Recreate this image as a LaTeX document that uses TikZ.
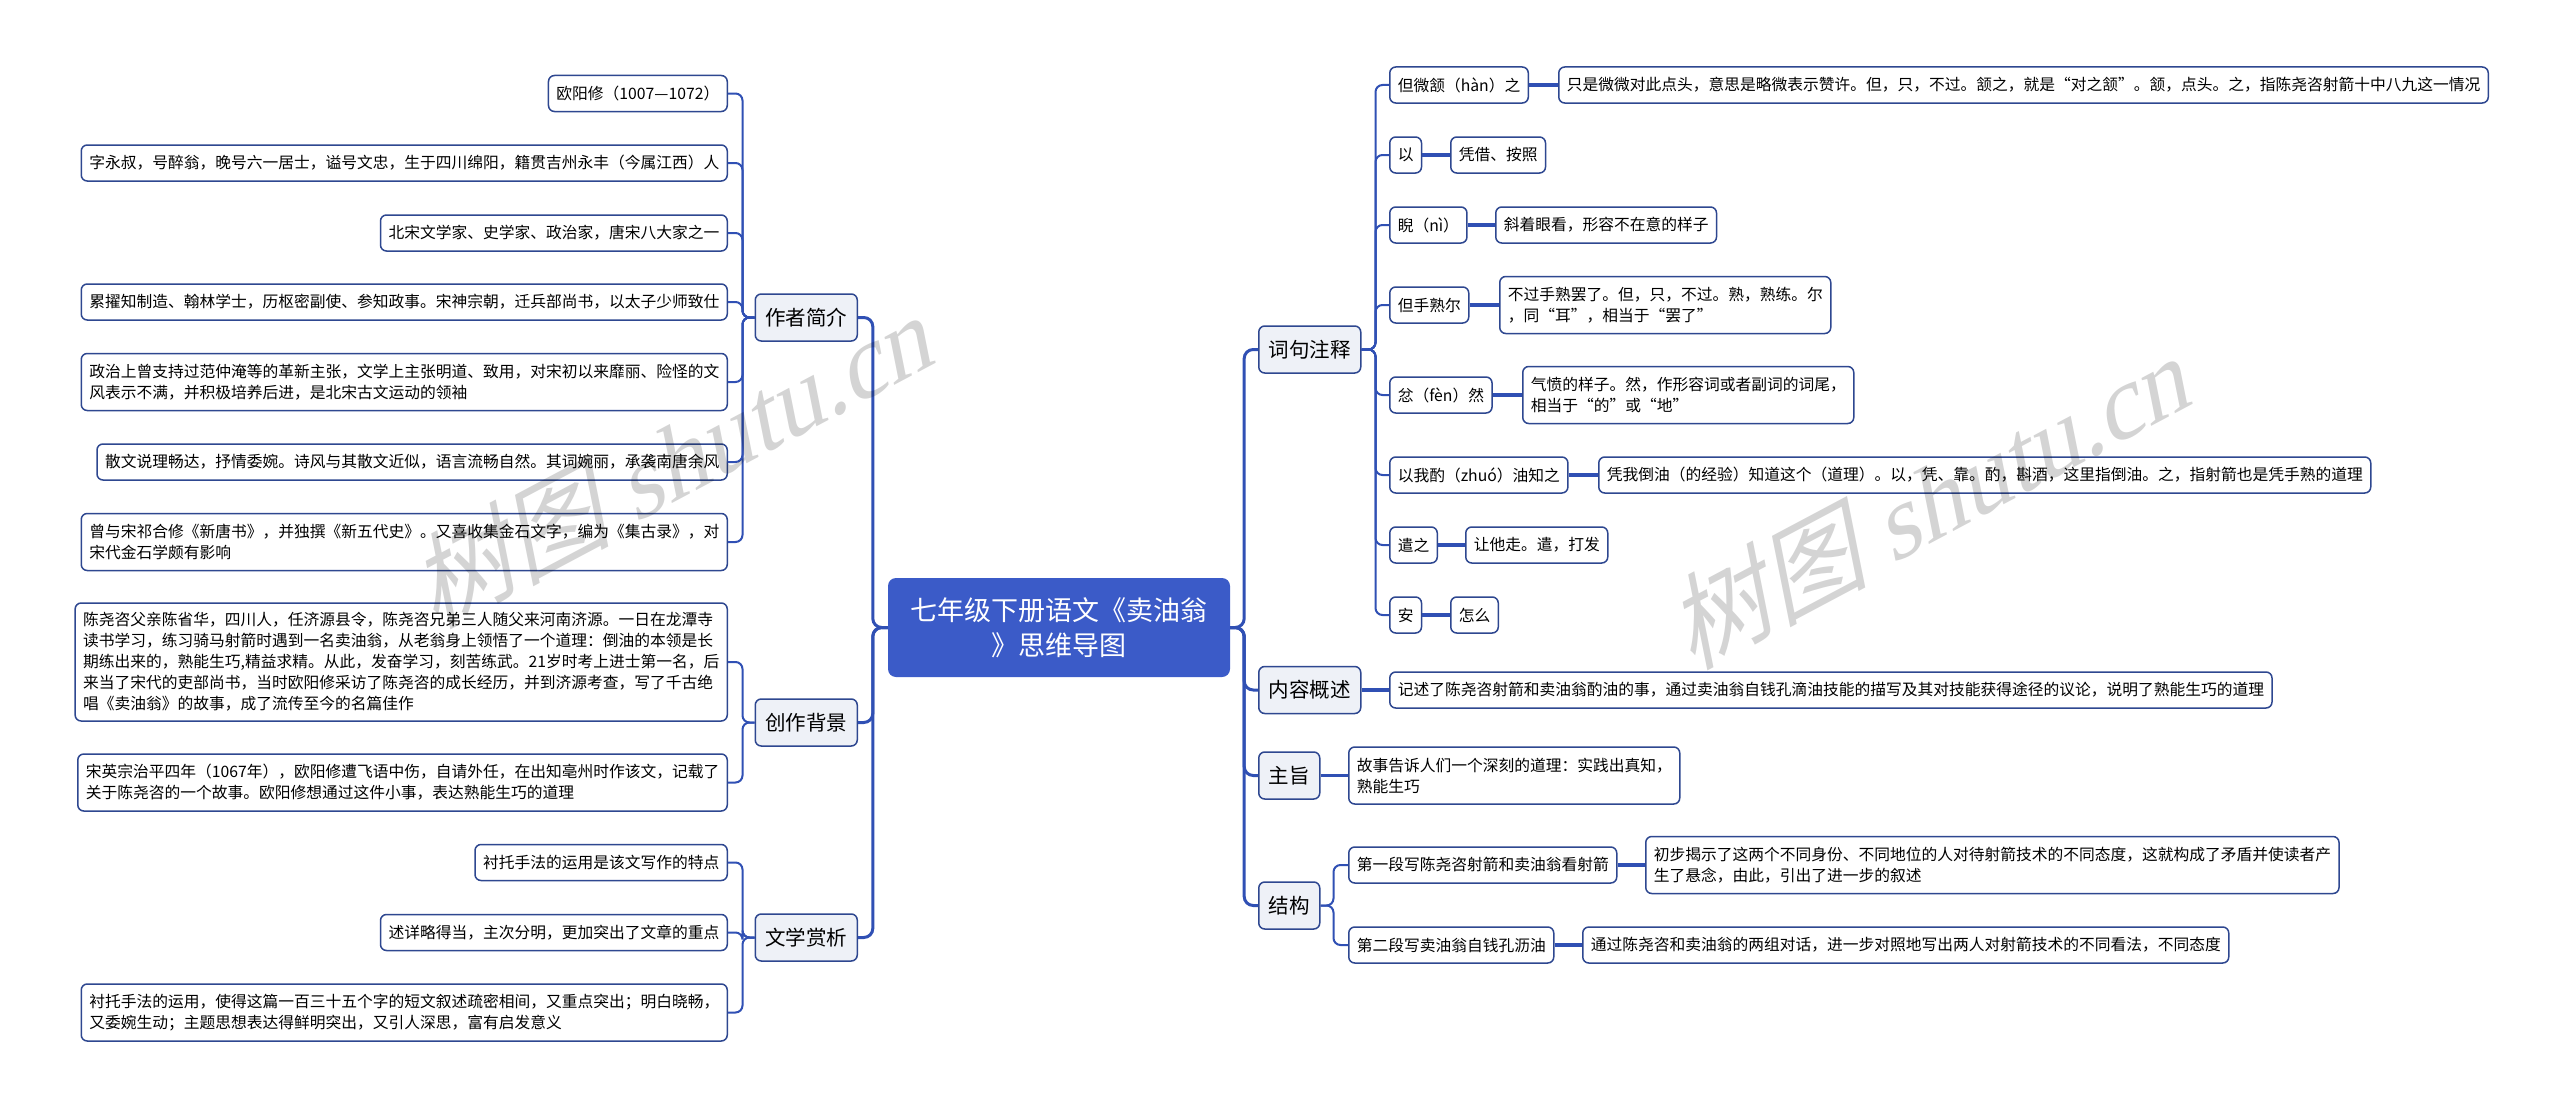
\documentclass[tikz,border=0pt]{standalone}
\usepackage{fontspec}
\setmainfont{Noto Sans CJK SC}
\newfontfamily\wmlatin[FakeSlant=0.3]{Liberation Serif}
\newfontfamily\wmcjk[FakeSlant=0.3]{Noto Sans CJK SC}
\definecolor{rootblue}{HTML}{3B5BC8}
\definecolor{linkblue}{HTML}{3050B4}
\definecolor{boxline}{HTML}{2E4790}
\definecolor{lvlfill}{HTML}{EEF1F7}
\begin{document}
\begin{tikzpicture}[x=1pt,y=-1pt,
  rootnode/.style={fill=rootblue, rounded corners=8pt, text=white, font=\fontsize{27}{35}\selectfont, align=center, minimum width=342pt, minimum height=99pt, inner sep=0pt},
  lvl/.style={draw=boxline, fill=lvlfill, line width=1.5pt, rounded corners=6pt, font=\fontsize{20.5}{24}\selectfont, inner xsep=10pt, inner ysep=0pt, minimum height=47pt},
  leaf/.style={draw=boxline, fill=white, line width=1.5pt, rounded corners=6pt, font=\fontsize{15.75}{21}\selectfont, align=left, inner xsep=8pt, inner ysep=3pt, minimum height=36pt},
  trunk/.style={draw=linkblue, line width=3pt, rounded corners=9pt},
  twig/.style={draw=linkblue, line width=2pt, rounded corners=7pt},
  stem/.style={draw=linkblue, line width=3.5pt},
  wm/.style={rotate=28, text=black, text opacity=0.17, font=\fontsize{102}{106}\selectfont}
]
\fill[white] (0,0) rectangle (2560,1108);
\useasboundingbox (0,0) rectangle (2560,1108);

% root
\node[rootnode] (root) at (1059,627.5) {七年级下册语文《卖油翁\\》思维导图};

% left level 1
\node[lvl, anchor=east] (zzjj) at (858,317.5) {作者简介};
\node[lvl, anchor=east] (czbj) at (858,722.5) {创作背景};
\node[lvl, anchor=east] (wxsx) at (858,937.5) {文学赏析};

% right level 1
\node[lvl, anchor=west] (cjzs) at (1258,349.5) {词句注释};
\node[lvl, anchor=west] (nrgs) at (1258,690) {内容概述};
\node[lvl, anchor=west] (zz) at (1258,775.5) {主旨};
\node[lvl, anchor=west] (jg) at (1258,905.5) {结构};

% left leaves: 作者简介
\node[leaf, anchor=east] (a1) at (728,93.5) {欧阳修（1007—1072）};
\node[leaf, anchor=east] (a2) at (728,163) {字永叔，号醉翁，晚号六一居士，谥号文忠，生于四川绵阳，籍贯吉州永丰（今属江西）人};
\node[leaf, anchor=east] (a3) at (728,233) {北宋文学家、史学家、政治家，唐宋八大家之一};
\node[leaf, anchor=east] (a4) at (728,302) {累擢知制造、翰林学士，历枢密副使、参知政事。宋神宗朝，迁兵部尚书，以太子少师致仕};
\node[leaf, anchor=east, minimum height=57pt] (a5) at (728,382) {政治上曾支持过范仲淹等的革新主张，文学上主张明道、致用，对宋初以来靡丽、险怪的文\\风表示不满，并积极培养后进，是北宋古文运动的领袖};
\node[leaf, anchor=east] (a6) at (728,462) {散文说理畅达，抒情委婉。诗风与其散文近似，语言流畅自然。其词婉丽，承袭南唐余风};
\node[leaf, anchor=east, minimum height=57pt] (a7) at (728,542) {曾与宋祁合修《新唐书》，并独撰《新五代史》。又喜收集金石文字，编为《集古录》，对\\宋代金石学颇有影响};

% left leaves: 创作背景
\node[leaf, anchor=east, minimum height=118pt] (b1) at (728,662) {陈尧咨父亲陈省华，四川人，任济源县令，陈尧咨兄弟三人随父来河南济源。一日在龙潭寺\\读书学习，练习骑马射箭时遇到一名卖油翁，从老翁身上领悟了一个道理：倒油的本领是长\\期练出来的，熟能生巧,精益求精。从此，发奋学习，刻苦练武。21岁时考上进士第一名，后\\来当了宋代的吏部尚书，当时欧阳修采访了陈尧咨的成长经历，并到济源考查，写了千古绝\\唱《卖油翁》的故事，成了流传至今的名篇佳作};
\node[leaf, anchor=east, minimum height=57pt] (b2) at (728,782.5) {宋英宗治平四年（1067年），欧阳修遭飞语中伤，自请外任，在出知亳州时作该文，记载了\\关于陈尧咨的一个故事。欧阳修想通过这件小事，表达熟能生巧的道理};

% left leaves: 文学赏析
\node[leaf, anchor=east] (c1) at (728,862.5) {衬托手法的运用是该文写作的特点};
\node[leaf, anchor=east] (c2) at (728,932.5) {述详略得当，主次分明，更加突出了文章的重点};
\node[leaf, anchor=east, minimum height=57pt] (c3) at (728,1012.5) {衬托手法的运用，使得这篇一百三十五个字的短文叙述疏密相间，又重点突出；明白晓畅，\\又委婉生动；主题思想表达得鲜明突出，又引人深思，富有启发意义};

% right: 词句注释 terms
\node[leaf, anchor=west] (d1) at (1389,85) {但微颔（hàn）之};
\node[leaf, anchor=west] (d2) at (1389,155) {以};
\node[leaf, anchor=west] (d3) at (1389,225) {睨（nì）};
\node[leaf, anchor=west] (d4) at (1389,305) {但手熟尔};
\node[leaf, anchor=west] (d5) at (1389,395) {忿（fèn）然};
\node[leaf, anchor=west] (d6) at (1389,475) {以我酌（zhuó）油知之};
\node[leaf, anchor=west] (d7) at (1389,545) {遣之};
\node[leaf, anchor=west] (d8) at (1389,615) {安};

% right: explanations
\node[leaf, anchor=west] (e1) at (1558,85) {只是微微对此点头，意思是略微表示赞许。但，只，不过。颔之，就是“对之颔”。颔，点头。之，指陈尧咨射箭十中八九这一情况};
\node[leaf, anchor=west] (e2) at (1450,155) {凭借、按照};
\node[leaf, anchor=west] (e3) at (1495,225) {斜着眼看，形容不在意的样子};
\node[leaf, anchor=west, minimum height=57pt] (e4) at (1499,305) {不过手熟罢了。但，只，不过。熟，熟练。尔\\，同“耳”，相当于“罢了”};
\node[leaf, anchor=west, minimum height=57pt] (e5) at (1522,395) {气愤的样子。然，作形容词或者副词的词尾，\\相当于“的”或“地”};
\node[leaf, anchor=west] (e6) at (1598,475) {凭我倒油（的经验）知道这个（道理）。以，凭、靠。酌，斟酒，这里指倒油。之，指射箭也是凭手熟的道理};
\node[leaf, anchor=west] (e7) at (1465,545) {让他走。遣，打发};
\node[leaf, anchor=west] (e8) at (1450,615) {怎么};

% right: 内容概述, 主旨
\node[leaf, anchor=west] (f1) at (1389,690) {记述了陈尧咨射箭和卖油翁酌油的事，通过卖油翁自钱孔滴油技能的描写及其对技能获得途径的议论，说明了熟能生巧的道理};
\node[leaf, anchor=west, minimum height=57pt] (i1) at (1348,775.5) {故事告诉人们一个深刻的道理：实践出真知，\\熟能生巧};

% right: 结构
\node[leaf, anchor=west] (g1) at (1348,865) {第一段写陈尧咨射箭和卖油翁看射箭};
\node[leaf, anchor=west] (g2) at (1348,945) {第二段写卖油翁自钱孔沥油};
\node[leaf, anchor=west, minimum height=57pt] (h1) at (1645,865) {初步揭示了这两个不同身份、不同地位的人对待射箭技术的不同态度，这就构成了矛盾并使读者产\\生了悬念，由此，引出了进一步的叙述};
\node[leaf, anchor=west] (h2) at (1582,945) {通过陈尧咨和卖油翁的两组对话，进一步对照地写出两人对射箭技术的不同看法，不同态度};

% trunk connectors
\foreach \t in {zzjj,czbj,wxsx}
  \draw[trunk] (root.west) -- ++(-15,0) |- (\t.east);
\foreach \t in {cjzs,nrgs,zz,jg}
  \draw[trunk] (root.east) -- ++(14,0) |- (\t.west);

% left twigs
\foreach \c in {a1,a2,a3,a4,a5,a6,a7}
  \draw[twig] (zzjj.west) -- ++(-12,0) |- (\c.east);
\foreach \c in {b1,b2}
  \draw[twig] (czbj.west) -- ++(-12,0) |- (\c.east);
\foreach \c in {c1,c2,c3}
  \draw[twig] (wxsx.west) -- ++(-12,0) |- (\c.east);

% right twigs
\foreach \c in {d1,d2,d3,d4,d5,d6,d7,d8}
  \draw[twig] (cjzs.east) -- ++(14,0) |- (\c.west);
\foreach \c in {g1,g2}
  \draw[twig] (jg.east) -- ++(13,0) |- (\c.west);

% stems
\draw[stem] (d1.east) -- (e1.west);
\draw[stem] (d2.east) -- (e2.west);
\draw[stem] (d3.east) -- (e3.west);
\draw[stem] (d4.east) -- (e4.west);
\draw[stem] (d5.east) -- (e5.west);
\draw[stem] (d6.east) -- (e6.west);
\draw[stem] (d7.east) -- (e7.west);
\draw[stem] (d8.east) -- (e8.west);
\draw[stem] (nrgs.east) -- (f1.west);
\draw[stem] (zz.east) -- (i1.west);
\draw[stem] (g1.east) -- (h1.west);
\draw[stem] (g2.east) -- (h2.west);

% watermarks
\node[wm] (wm1) at (668,462) {{\wmcjk 树图} {\wmlatin shutu.cn}};
\node[wm] (wm2) at (1925,503) {{\wmcjk 树图} {\wmlatin shutu.cn}};
\end{tikzpicture}
\end{document}
